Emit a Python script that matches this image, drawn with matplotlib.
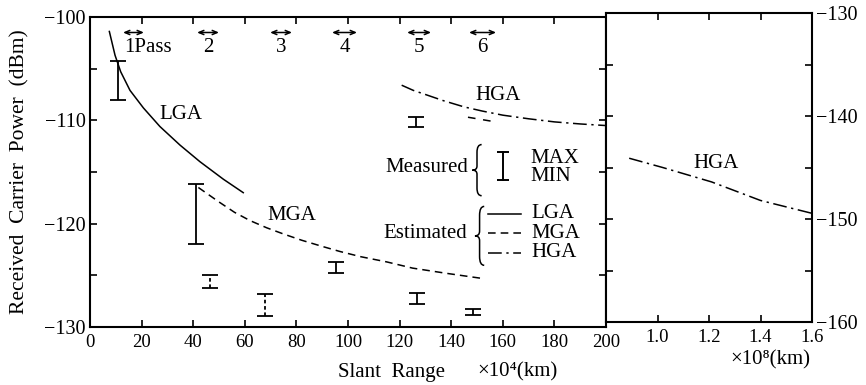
import matplotlib
matplotlib.use('agg')
import matplotlib.pyplot as plt
from matplotlib.ticker import MultipleLocator
from matplotlib.path import Path
from matplotlib.patches import PathPatch

plt.rcParams['font.family'] = ['Liberation Serif', 'DejaVu Serif']
plt.rcParams['axes.unicode_minus'] = True

# estimated curves, near range (x in 10^4 km, y in dBm)
lga_x = [7.5, 9.7, 11.9, 15.5, 20.7, 27.1, 34.9, 42.6, 51.7, 59.4]
lga_y = [-101.4, -103.7, -105.3, -107.1, -108.8, -110.6, -112.4, -114.0, -115.7, -117.0]

mga_x = [42, 46, 50, 56, 62, 68.5, 75, 82, 90, 97, 105, 115, 125, 138, 152]
mga_y = [-116.5, -117.2, -117.9, -118.9, -119.7, -120.4, -121.0, -121.6, -122.2, -122.7,
         -123.2, -123.7, -124.3, -124.8, -125.3]

hga_x = [120.8, 125.3, 130, 137, 145, 152, 160, 170, 180, 190, 199.6]
hga_y = [-106.6, -107.1, -107.5, -108.1, -108.7, -109.1, -109.5, -109.85, -110.15, -110.35, -110.5]

# short extra HGA segment below the curve near pass 6
hga2_x = [146.5, 156.0]
hga2_y = [-109.7, -110.1]

# estimated HGA, far range (x in 10^8 km)
far_x = [0.89, 1.02, 1.21, 1.40, 1.60]
far_y = [-144.1, -145.0, -146.4, -148.2, -149.45]

# measured MAX / MIN
meas_x = [11.0, 41.0, 46.7, 67.8, 95.3, 126.7, 148.5, 126.3]
meas_max = [-104.3, -116.2, -125.0, -126.8, -123.7, -126.7, -128.3, -109.7]
meas_min = [-108.0, -122.0, -126.2, -128.9, -124.8, -127.8, -128.85, -110.6]
meas_dashed = [False, False, True, True, False, False, False, False]

# pass periods
pass_start = [12.8, 41.5, 69.8, 93.8, 122.9, 146.9]
pass_end = [20.9, 50.0, 78.3, 103.5, 132.2, 157.4]
pass_labels = ['1Pass', '2', '3', '4', '5', '6']

near_xticks = list(range(0, 201, 20))
far_xticks = [1.0, 1.2, 1.4, 1.6]


def brace(ax, x, yc, h, w):
    # thin left curly brace in axes coordinates
    t, m = yc + h / 2, x + w / 2
    verts = [(x + w, t), (m, t), (m, t - 0.15 * h),
             (m, yc + 0.08 * h), (m, yc), (x, yc),
             (m, yc), (m, yc - 0.08 * h),
             (m, yc - h / 2 + 0.15 * h), (m, yc - h / 2), (x + w, yc - h / 2)]
    codes = [Path.MOVETO, Path.CURVE3, Path.CURVE3,
             Path.LINETO, Path.CURVE3, Path.CURVE3,
             Path.CURVE3, Path.CURVE3,
             Path.LINETO, Path.CURVE3, Path.CURVE3]
    ax.add_patch(PathPatch(Path(verts, codes), fill=False, lw=1.1, ec='k',
                           transform=ax.transAxes, clip_on=False))


W, H = 866, 385
fig = plt.figure(figsize=(W / 100, H / 100), dpi=100)
ax = fig.add_axes([90 / W, 1 - 327 / H, 516 / W, 310 / H])
ax2 = fig.add_axes([606 / W, 1 - 322 / H, 206 / W, 309 / H])

lw = 1.1
mga_ls = (0, (5, 3.3))
hga_ls = (0, (9, 3, 1.5, 3))

ax.plot(lga_x, lga_y, color='k', lw=lw)
ax.plot(mga_x, mga_y, color='k', lw=lw, ls=mga_ls)
ax.plot(hga_x, hga_y, color='k', lw=lw, ls=hga_ls)
ax.plot(hga2_x, hga2_y, color='k', lw=lw, ls=(0, (5, 5)))
ax2.plot(far_x, far_y, color='k', lw=lw, ls=hga_ls)

for i in range(len(meas_x)):
    mid = (meas_max[i] + meas_min[i]) / 2
    half = (meas_max[i] - meas_min[i]) / 2
    eb = ax.errorbar([meas_x[i]], [mid], yerr=[half], fmt='none', ecolor='k',
                     elinewidth=1.3, capsize=6, capthick=1.3)
    if meas_dashed[i]:
        eb[2][0].set_linestyle((0, (2, 1.5)))

for s, e, lab in zip(pass_start, pass_end, pass_labels):
    ax.annotate('', xy=(s, -101.5), xytext=(e, -101.5),
                arrowprops=dict(arrowstyle='<->,head_length=0.35,head_width=0.15', lw=1.1, color='k',
                                shrinkA=0, shrinkB=0))
    if lab == '1Pass':
        ax.text(s + 0.5, -103.0, lab, ha='left', va='center', fontsize=15)
    else:
        ax.text((s + e) / 2, -103.0, lab, ha='center', va='center', fontsize=15)

ax.text(35.3, -109.4, 'LGA', ha='center', va='center', fontsize=15)
ax.text(78.3, -119.2, 'MGA', ha='center', va='center', fontsize=15)
ax.text(158.1, -107.55, 'HGA', ha='center', va='center', fontsize=15)
ax2.text(1.227, -144.6, 'HGA', ha='center', va='center', fontsize=15)

# legend-like annotation
ta = ax.transAxes
ax.text(0.733, 0.516, 'Measured', ha='right', va='center', fontsize=15, transform=ta)
brace(ax, 0.741, 0.506, 0.165, 0.018)
ax.plot([0.800, 0.800], [0.474, 0.565], color='k', lw=1.4, transform=ta)
ax.plot([0.800, 0.800], [0.474, 0.565], color='k', ls='none', marker='_', ms=8, mew=1.4, transform=ta)
ax.text(0.853, 0.545, 'MAX', ha='left', va='center', fontsize=15, transform=ta)
ax.text(0.853, 0.484, 'MIN', ha='left', va='center', fontsize=15, transform=ta)

ax.text(0.731, 0.303, 'Estimated', ha='right', va='center', fontsize=15, transform=ta)
brace(ax, 0.746, 0.294, 0.19, 0.018)
for yy, ls, lab in [(0.365, '-', 'LGA'), (0.303, mga_ls, 'MGA'), (0.240, hga_ls, 'HGA')]:
    ax.plot([0.771, 0.836], [yy, yy], color='k', lw=lw, ls=ls, transform=ta)
    ax.text(0.856, yy, lab, ha='left', va='center', fontsize=15, transform=ta)

# axes formatting
ax.set_xlim(0, 200)
ax.set_ylim(-130, -100)
ax.set_xticks(near_xticks)
ax.yaxis.set_major_locator(MultipleLocator(10))
ax.yaxis.set_minor_locator(MultipleLocator(5))
ax.tick_params(axis='both', which='both', direction='in', top=True, right=True,
               length=5, width=1.2)
ax.tick_params(axis='x', labelsize=13.5, pad=5)
ax.tick_params(axis='y', labelsize=14.5, pad=3)

ax2.set_xlim(0.8, 1.6)
ax2.set_ylim(-160, -130)
ax2.set_xticks(far_xticks)
ax2.set_xticklabels(['1.0', '1.2', '1.4', '1.6'])
ax2.yaxis.set_major_locator(MultipleLocator(10))
ax2.yaxis.set_minor_locator(MultipleLocator(5))
ax2.tick_params(axis='both', which='both', direction='in', top=True, right=True, left=True,
                labelleft=False, labelright=True, length=5, width=1.2)
ax2.tick_params(axis='x', labelsize=13.5, pad=5)
ax2.tick_params(axis='y', labelsize=14.5, pad=3)

for a in (ax, ax2):
    for sp in a.spines.values():
        sp.set_linewidth(1.5)

fig.text(20 / W, 1 - 172 / H, 'Received  Carrier  Power  (dBm)', rotation=90,
         ha='center', va='center', fontsize=15.5)
fig.text(392 / W, 1 - 372 / H, 'Slant  Range', ha='center', va='center', fontsize=15)
fig.text(477 / W, 1 - 372 / H, '×10⁴(km)', ha='left', va='center', fontsize=15)
fig.text(770 / W, 1 - 360 / H, '×10⁸(km)', ha='center', va='center', fontsize=15)

fig.savefig('out.png', dpi=100)
